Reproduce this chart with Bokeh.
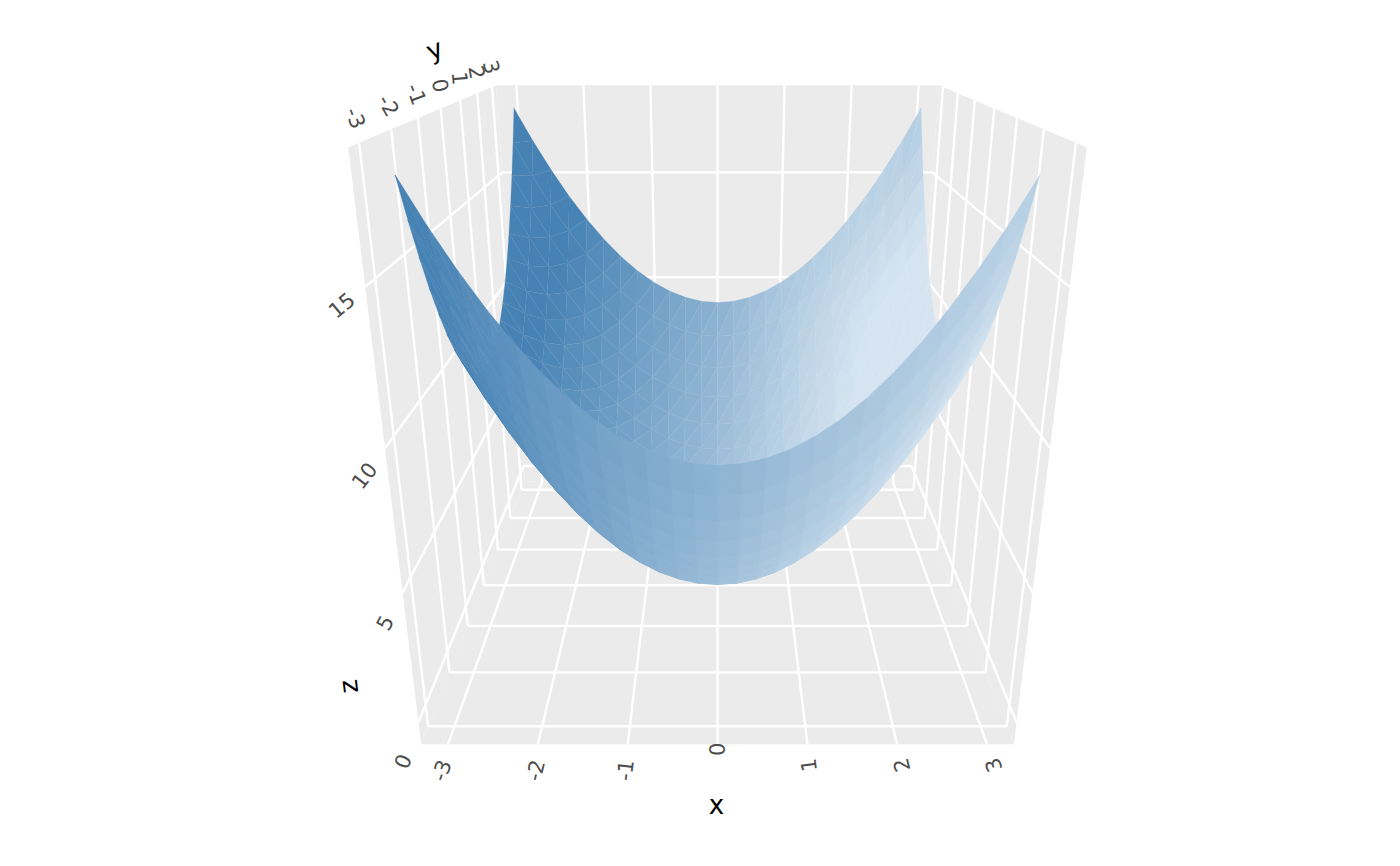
import numpy as np
from bokeh.plotting import figure
from bokeh.models import Range1d
from bokeh.core.properties import value
from bokeh.embed import file_html
from bokeh.resources import INLINE

x_values = [-3, -2.75, -2.5, -2.25, -2, -1.75, -1.5, -1.25, -1, -0.75, -0.5, -0.25, 0, 0.25, 0.5, 0.75, 1, 1.25, 1.5, 1.75, 2, 2.25, 2.5, 2.75, 3]
y_values = [-3, -2.75, -2.5, -2.25, -2, -1.75, -1.5, -1.25, -1, -0.75, -0.5, -0.25, 0, 0.25, 0.5, 0.75, 1, 1.25, 1.5, 1.75, 2, 2.25, 2.5, 2.75, 3]
r00 = [9,7.56,6.25,5.06,4,3.06,2.25,1.56,1,.56,.25,.06,0,.06,.25,.56,1,1.56,2.25,3.06,4,5.06,6.25,7.56,9]
r01 = [9.06,7.62,6.31,5.12,4.06,3.12,2.31,1.62,1.06,.62,.31,.12,.06,.12,.31,.62,1.06,1.62,2.31,3.12,4.06,5.12,6.31,7.62,9.06]
r02 = [9.25,7.81,6.5,5.31,4.25,3.31,2.5,1.81,1.25,.81,.5,.31,.25,.31,.5,.81,1.25,1.81,2.5,3.31,4.25,5.31,6.5,7.81,9.25]
r03 = [9.56,8.12,6.81,5.62,4.56,3.62,2.81,2.12,1.56,1.12,.81,.62,.56,.62,.81,1.12,1.56,2.12,2.81,3.62,4.56,5.62,6.81,8.12,9.56]
r04 = [10,8.56,7.25,6.06,5,4.06,3.25,2.56,2,1.56,1.25,1.06,1,1.06,1.25,1.56,2,2.56,3.25,4.06,5,6.06,7.25,8.56,10]
r05 = [10.56,9.12,7.81,6.62,5.56,4.62,3.81,3.12,2.56,2.12,1.81,1.62,1.56,1.62,1.81,2.12,2.56,3.12,3.81,4.62,5.56,6.62,7.81,9.12,10.56]
r06 = [11.25,9.81,8.5,7.31,6.25,5.31,4.5,3.81,3.25,2.81,2.5,2.31,2.25,2.31,2.5,2.81,3.25,3.81,4.5,5.31,6.25,7.31,8.5,9.81,11.25]
r07 = [12.06,10.62,9.31,8.12,7.06,6.12,5.31,4.62,4.06,3.62,3.31,3.12,3.06,3.12,3.31,3.62,4.06,4.62,5.31,6.12,7.06,8.12,9.31,10.62,12.06]
r08 = [13,11.56,10.25,9.06,8,7.06,6.25,5.56,5,4.56,4.25,4.06,4,4.06,4.25,4.56,5,5.56,6.25,7.06,8,9.06,10.25,11.56,13]
r09 = [14.06,12.62,11.31,10.12,9.06,8.12,7.31,6.62,6.06,5.62,5.31,5.12,5.06,5.12,5.31,5.62,6.06,6.62,7.31,8.12,9.06,10.12,11.31,12.62,14.06]
r10 = [15.25,13.81,12.5,11.31,10.25,9.31,8.5,7.81,7.25,6.81,6.5,6.31,6.25,6.31,6.5,6.81,7.25,7.81,8.5,9.31,10.25,11.31,12.5,13.81,15.25]
r11 = [16.56,15.12,13.81,12.62,11.56,10.62,9.81,9.12,8.56,8.12,7.81,7.62,7.56,7.62,7.81,8.12,8.56,9.12,9.81,10.62,11.56,12.62,13.81,15.12,16.56]
r12 = [18,16.56,15.25,14.06,13,12.06,11.25,10.56,10,9.56,9.25,9.06,9,9.06,9.25,9.56,10,10.56,11.25,12.06,13,14.06,15.25,16.56,18]
z_rows = [r12,r11,r10,r09,r08,r07,r06,r05,r04,r03,r02,r01,r00,r01,r02,r03,r04,r05,r06,r07,r08,r09,r10,r11,r12]

x_ticks = [-3, -2, -1, 0, 1, 2, 3]
y_ticks = [-3, -2, -1, 0, 1, 2, 3]
z_ticks = [0, 5, 10, 15]
x_labels = ["-3", "-2", "-1", "0", "1", "2", "3"]
y_labels = ["-3", "-2", "-1", "0", "1", "2", "3"]
z_labels = ["0", "5", "10", "15"]
xlim = (-3.3, 3.3)
ylim = (-3.3, 3.3)
zlim = (-0.9, 18.9)

PANEL = "#EBEBEB"
DARK = np.array([70, 130, 180.0])
LIGHT = np.array([226, 237, 246.0])


def depth(y, z):
    return 0.01402 + 0.000905 * np.asarray(y, float) - 0.000111 * np.asarray(z, float)


def project(x, y, z):
    x, y, z = [np.asarray(a, float) for a in (x, y, z)]
    w = depth(y, z)
    return 717 + x / w, (7.94 - 0.007 * y - 0.352 * z) / w


p = figure(width=1384, height=850, output_backend="svg", toolbar_location=None,
           x_range=Range1d(0, 1384), y_range=Range1d(850, 0),
           x_axis_type=None, y_axis_type=None, min_border=0, outline_line_color=None,
           background_fill_color="white", border_fill_color="white")
p.grid.visible = False

# panels
x0, x1 = xlim
y0, y1 = ylim
z0, z1 = zlim
faces = [
    [(x0, y0, z0), (x1, y0, z0), (x1, y1, z0), (x0, y1, z0)],
    [(x0, y1, z0), (x1, y1, z0), (x1, y1, z1), (x0, y1, z1)],
    [(x0, y0, z0), (x0, y1, z0), (x0, y1, z1), (x0, y0, z1)],
    [(x1, y0, z0), (x1, y1, z0), (x1, y1, z1), (x1, y0, z1)],
]
fx, fy = [], []
for f in faces:
    a = np.array(f)
    u, v = project(a[:, 0], a[:, 1], a[:, 2])
    fx.append(u.tolist())
    fy.append(v.tolist())
p.patches(fx, fy, fill_color=PANEL, line_color=None)

# grid
segs = []
for t in x_ticks:
    segs.append(((t, y0, z0), (t, y1, z0)))
    segs.append(((t, y1, z0), (t, y1, z1)))
for t in y_ticks:
    segs.append(((x0, t, z0), (x1, t, z0)))
    segs.append(((x0, t, z0), (x0, t, z1)))
    segs.append(((x1, t, z0), (x1, t, z1)))
for t in z_ticks:
    segs.append(((x0, y0, t), (x0, y1, t)))
    segs.append(((x1, y0, t), (x1, y1, t)))
    segs.append(((x0, y1, t), (x1, y1, t)))
gx, gy = [], []
for a, b in segs:
    a, b = np.array(a, float), np.array(b, float)
    u, v = project([a[0], b[0]], [a[1], b[1]], [a[2], b[2]])
    gx.append(u.tolist())
    gy.append(v.tolist())
p.multi_line(gx, gy, line_color="white", line_width=2.4)

# surface
X = np.array(x_values, float)
Y = np.array(y_values, float)
Z = np.array(z_rows, float)


def unit(v):
    return v / np.linalg.norm(v)


def shade(cx, cy, cz):
    s = 0.59 + (0.21 if cx > 0 else 0.17) * cx - 0.016 * cz
    if cx > 0:
        if cy < 0:
            s += 0.024 * cx * cy
        else:
            s -= 0.029 * max(0.0, cz - 9) * cx / 3
    elif cy < 0:
        s += 0.02 * cx * cy
    return s


sx, sy, sc, sd, sw = [], [], [], [], []
for j in range(len(Y) - 1):
    for i in range(len(X) - 1):
        a = np.array((X[i], Y[j], Z[j, i]))
        b = np.array((X[i + 1], Y[j], Z[j, i + 1]))
        c = np.array((X[i + 1], Y[j + 1], Z[j + 1, i + 1]))
        d = np.array((X[i], Y[j + 1], Z[j + 1, i]))
        nq = unit(np.cross(c - a, d - b))
        for tri in ((a, b, c), (a, c, d)):
            m = np.array(tri)
            nt = unit(np.cross(m[1] - m[0], m[2] - m[0]))
            ctr = m.mean(axis=0)
            s = shade(*ctr) - 0.08 * (nt[0] - nq[0])
            s = float(np.clip(s, 0, 0.92))
            col = DARK + (LIGHT - DARK) * s
            u, v = project(m[:, 0], m[:, 1], m[:, 2])
            area = (u[1] - u[0]) * (v[2] - v[0]) - (u[2] - u[0]) * (v[1] - v[0])
            sx.append(u.tolist())
            sy.append(v.tolist())
            sc.append("#%02x%02x%02x" % tuple(int(round(q)) for q in col))
            sd.append(float(depth(m[:, 1].mean(), m[:, 2].mean())))
            sw.append(0.2 if area < 0 else 0.5)
order = np.argsort(sd)[::-1]
cols = [sc[i] for i in order]
p.patches([sx[i] for i in order], [sy[i] for i in order],
          fill_color=cols, line_color=cols, line_width=[sw[i] for i in order])

# tick labels
FONT = value("DejaVu Sans")


def lab(px, py, texts, angles, color="#4D4D4D", size="21px"):
    p.text(list(px), list(py), text=list(texts), angle=list(angles), angle_units="deg",
           text_color=color, text_font=FONT, text_font_size=size,
           text_align="center", text_baseline="middle")


u, v = project(x_ticks, [y0] * 7, [z0] * 7)
lab(u + np.array([-7, -3, -3, -1, 1, 4, 6]), v + np.array([26, 26, 26, 5, 21, 21, 21]), x_labels,
    [70, 76, 83, 90, 97, 104, 110])
u, v = project([x0] * 7, y_ticks, [z1] * 7)
lab(u + np.array([-3, -2, -1, 0, 0, 0, 0]), v + np.array([-25, -24, -24, -23, -22, -21, -20]), y_labels,
    [-68, -60, -70, -80, -85, -80, -75])
u, v = project([x0] * 4, [y0] * 4, z_ticks)
lab(u + np.array([-16, -18, -21, -24]), v + np.array([39, 30, 27, 18]), z_labels,
    [67, 62, 52, 40])

# titles
lab([716], [804], ["x"], [0], color="black", size="26px")
lab([434], [49], ["y"], [22], color="black", size="26px")
lab([348], [686], ["z"], [97], color="black", size="26px")

open("out.html", "w").write(file_html(p, INLINE))
